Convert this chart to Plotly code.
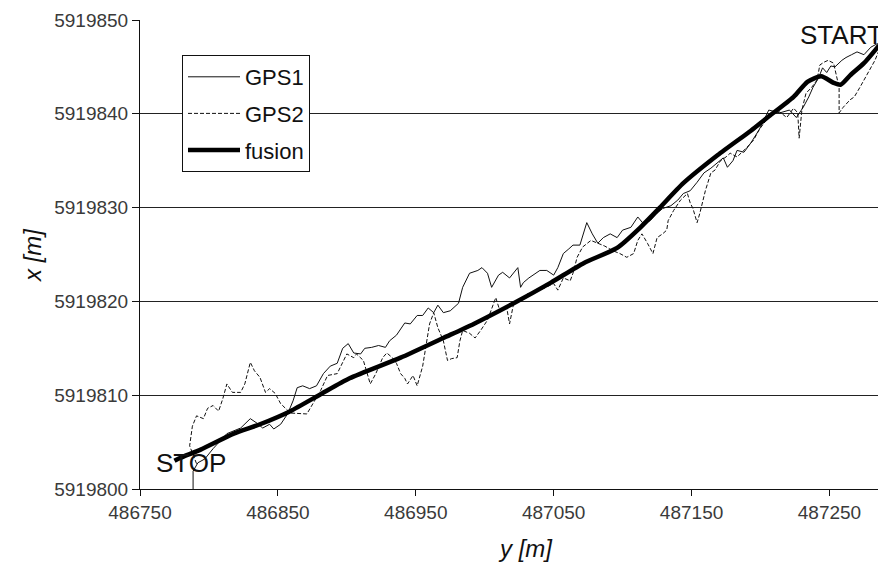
import plotly.graph_objects as go

# ---- data (y = easting [m], x = northing [m]) ----
fusion_y = [486775, 486779, 486794, 486818, 486837, 486859, 486881, 486902, 486939, 486970,
            486992, 487021, 487048, 487072, 487096, 487113, 487127, 487144, 487169, 487193,
            487205, 487224, 487234, 487244, 487253, 487258, 487265, 487275, 487286]
fusion_x = [5919803.0, 5919803.3, 5919804.2, 5919805.9, 5919806.9, 5919808.3, 5919810.1, 5919811.8,
            5919814.0, 5919816.1, 5919817.6, 5919819.8, 5919822.0, 5919824.1, 5919825.7, 5919827.9,
            5919830.0, 5919832.6, 5919835.6, 5919838.2, 5919839.6, 5919841.8, 5919843.4, 5919844.0,
            5919843.3, 5919843.1, 5919844.1, 5919845.4, 5919847.3]

gps1_y = [486788.5, 486788.5, 486792, 486797, 486803, 486808, 486813, 486823, 486830, 486835,
          486839, 486844, 486847, 486852, 486857, 486861, 486864, 486868, 486873, 486878,
          486883, 486888, 486893, 486897, 486901, 486905, 486910, 486913, 486918, 486923,
          486928, 486931, 486936, 486942, 486946, 486951, 486955, 486959, 486963, 486966,
          486970, 486975, 486981, 486984, 486989, 486995, 486998, 487002, 487005, 487010,
          487013, 487018, 487024, 487026, 487028, 487032, 487037, 487040, 487045, 487050,
          487053, 487057, 487061, 487064, 487069, 487074, 487078, 487082, 487086, 487091,
          487096, 487100, 487106, 487111, 487115, 487120, 487125, 487129, 487135, 487140,
          487144, 487149, 487154, 487159, 487164, 487169, 487173, 487176, 487180, 487183,
          487188, 487193, 487199, 487206, 487214, 487221, 487226, 487231, 487235, 487238,
          487242, 487245, 487248, 487251, 487254, 487259, 487262, 487266, 487270, 487275,
          487280, 487285]
gps1_x = [5919799.2, 5919801.9, 5919802.8, 5919803.2, 5919804.3, 5919805.1, 5919805.9, 5919806.5,
          5919807.5, 5919807.0, 5919806.5, 5919806.9, 5919806.4, 5919806.9, 5919808.0, 5919809.4,
          5919810.8, 5919811.0, 5919810.7, 5919811.0, 5919812.3, 5919813.1, 5919813.4, 5919815.0,
          5919815.5, 5919814.5, 5919814.4, 5919815.0, 5919815.1, 5919815.3, 5919815.1, 5919815.8,
          5919816.4, 5919817.7, 5919817.6, 5919818.5, 5919818.5, 5919819.3, 5919818.8, 5919819.6,
          5919818.8, 5919819.0, 5919819.8, 5919821.5, 5919823.0, 5919823.3, 5919823.6, 5919823.0,
          5919821.5, 5919822.8, 5919823.1, 5919822.5, 5919823.6, 5919821.5, 5919822.0, 5919822.5,
          5919823.0, 5919823.3, 5919823.3, 5919822.8, 5919823.6, 5919825.1, 5919825.6, 5919826.0,
          5919826.0, 5919828.4, 5919827.2, 5919826.2, 5919826.8, 5919827.2, 5919826.8, 5919827.6,
          5919827.9, 5919829.0, 5919828.3, 5919828.6, 5919829.4, 5919829.9, 5919830.2, 5919830.8,
          5919831.5, 5919831.8, 5919832.7, 5919833.7, 5919834.2, 5919834.8, 5919835.3, 5919834.3,
          5919835.0, 5919836.1, 5919835.9, 5919836.9, 5919838.3, 5919840.4, 5919840.1, 5919840.4,
          5919839.6, 5919840.7, 5919841.8, 5919842.8, 5919843.8, 5919844.9, 5919844.4, 5919845.1,
          5919845.0, 5919845.7, 5919846.0, 5919846.3, 5919846.6, 5919846.3, 5919847.1, 5919847.5]

gps2_y = [486791, 486786, 486788, 486791, 486796, 486799, 486803, 486807, 486810, 486813,
          486817, 486823, 486826, 486830, 486833, 486837, 486841, 486844, 486848, 486852,
          486859, 486866, 486871, 486881, 486886, 486893, 486900, 486905, 486907, 486912,
          486915, 486917, 486921, 486926, 486929, 486933, 486936, 486939, 486942, 486944,
          486948, 486951, 486955, 486957, 486960, 486963, 486966, 486970, 486973, 486976,
          486980, 486982, 486984, 486989, 486993, 486997, 487002, 487008, 487011, 487016,
          487018, 487021, 487026, 487031, 487040, 487050, 487053, 487057, 487062, 487064,
          487067, 487071, 487077, 487082, 487087, 487093, 487098, 487103, 487108, 487111,
          487114, 487118, 487122, 487125, 487129, 487132, 487133, 487137, 487142, 487147,
          487149, 487151, 487154, 487156, 487160, 487164, 487167, 487171, 487175, 487178,
          487183, 487190, 487195, 487199, 487204, 487209, 487214, 487219, 487224, 487227,
          487228, 487230, 487233, 487237, 487241, 487243, 487246, 487249, 487253, 487255,
          487257, 487257, 487260, 487265, 487268, 487272, 487275, 487279, 487283, 487286]
gps2_x = [5919802.7, 5919804.6, 5919806.7, 5919807.8, 5919807.5, 5919808.6, 5919808.9, 5919808.3,
          5919809.6, 5919811.2, 5919810.3, 5919810.3, 5919811.2, 5919813.5, 5919812.6, 5919811.9,
          5919810.3, 5919810.7, 5919810.2, 5919809.1, 5919808.1, 5919808.0, 5919808.0, 5919810.5,
          5919812.1, 5919812.3, 5919814.4, 5919814.0, 5919814.4, 5919813.7, 5919812.3, 5919811.2,
          5919812.3, 5919814.0, 5919814.5, 5919814.0, 5919813.4, 5919812.3, 5919811.8, 5919811.2,
          5919812.1, 5919811.0, 5919813.1, 5919815.1, 5919817.6, 5919818.8, 5919817.2, 5919815.8,
          5919813.7, 5919813.9, 5919814.0, 5919815.8, 5919816.9, 5919816.6, 5919816.1, 5919816.9,
          5919818.0, 5919820.4, 5919819.0, 5919819.3, 5919817.6, 5919819.8, 5919820.1, 5919820.8,
          5919821.2, 5919821.9, 5919821.2, 5919822.5, 5919822.2, 5919823.0, 5919824.7, 5919825.8,
          5919826.5, 5919826.2, 5919825.9, 5919825.4, 5919825.1, 5919824.7, 5919825.1, 5919826.5,
          5919827.2, 5919826.2, 5919825.1, 5919826.8, 5919827.2, 5919827.6, 5919828.6, 5919829.7,
          5919830.8, 5919831.5, 5919830.5, 5919829.9, 5919828.4, 5919829.4, 5919831.8, 5919833.7,
          5919834.0, 5919835.0, 5919835.4, 5919835.8, 5919835.4, 5919836.4, 5919837.2, 5919838.3,
          5919839.3, 5919840.1, 5919840.2, 5919839.6, 5919840.6, 5919840.1, 5919837.4, 5919840.4,
          5919842.2, 5919842.8, 5919843.6, 5919845.2, 5919845.5, 5919845.7, 5919845.4, 5919844.1,
          5919842.8, 5919840.1, 5919840.7, 5919841.5, 5919841.8, 5919842.8, 5919843.6, 5919844.7,
          5919845.7, 5919846.8]

x_tick_vals = [486750, 486850, 486950, 487050, 487150, 487250]
y_tick_vals = [5919800, 5919810, 5919820, 5919830, 5919840, 5919850]
start_label = ("START", 487259, 5919848.4)
stop_label = ("STOP", 486787, 5919802.8)

FONT = "Liberation Sans, Arial, sans-serif"

# page body has an 8px margin -> figure is 8px smaller than the window
W, H = 878, 560
L, T, R, B = 132, 12, 0, 79
PW = W - L - R
PH = H - T - B

fig = go.Figure()
fig.add_trace(go.Scatter(x=gps1_y, y=gps1_x, mode="lines", name="GPS1", legendgroup="a",
                         line=dict(color="#111111", width=1)))
fig.add_trace(go.Scatter(x=gps2_y, y=gps2_x, mode="lines", name="GPS2", legendgroup="b",
                         line=dict(color="#111111", width=1, dash="4px,2px")))
fig.add_trace(go.Scatter(x=fusion_y, y=fusion_x, mode="lines", name="fusion", legendgroup="c",
                         line=dict(color="#000000", width=4.5, shape="spline", smoothing=0.6)))

for txt, xv, yv in (start_label, stop_label):
    fig.add_annotation(x=xv, y=yv, text=txt, showarrow=False,
                       font=dict(family=FONT, size=26, color="#111111"))

# axis titles (positions in page pixels converted to paper coords)
fig.add_annotation(xref="paper", yref="paper", x=(525 - 8 - L) / PW, y=-(548 - 8 - T - PH) / PH,
                   text="<i>y [m]</i>", showarrow=False, yanchor="middle",
                   font=dict(family=FONT, size=24, color="#111111"))
fig.add_annotation(xref="paper", yref="paper", x=(32 - 8 - L) / PW, y=(PH - (255 - 8 - T)) / PH,
                   text="<i>x [m]</i>", showarrow=False, textangle=-90, xanchor="center",
                   yanchor="middle", font=dict(family=FONT, size=24, color="#111111"))

fig.update_layout(
    width=W, height=H,
    margin=dict(l=L, r=R, t=T, b=B),
    paper_bgcolor="white", plot_bgcolor="white",
    font=dict(family=FONT, color="#333333"),
    showlegend=True,
    legend=dict(x=(182 - 8 - L) / PW, y=(PH - (55 - 8 - T)) / PH, xanchor="left", yanchor="top",
                bgcolor="white", bordercolor="#111111", borderwidth=1,
                font=dict(family=FONT, size=22, color="#111111"),
                tracegroupgap=5, itemwidth=52),
    xaxis=dict(range=[486750, 487291], tickvals=x_tick_vals, tickformat="d",
               showgrid=False, zeroline=False, showline=True, linecolor="#111111", linewidth=1,
               ticks="outside", ticklen=6, tickcolor="#111111",
               tickfont=dict(family=FONT, size=19, color="#3a3a3a")),
    yaxis=dict(range=[5919800, 5919850], tickvals=y_tick_vals, tickformat="d",
               showgrid=True, gridcolor="#222222", gridwidth=1, zeroline=False,
               showline=True, linecolor="#111111", linewidth=1,
               ticks="outside", ticklen=7, tickcolor="#111111",
               tickfont=dict(family=FONT, size=19, color="#3a3a3a")),
)

fig.write_html("out.html")
